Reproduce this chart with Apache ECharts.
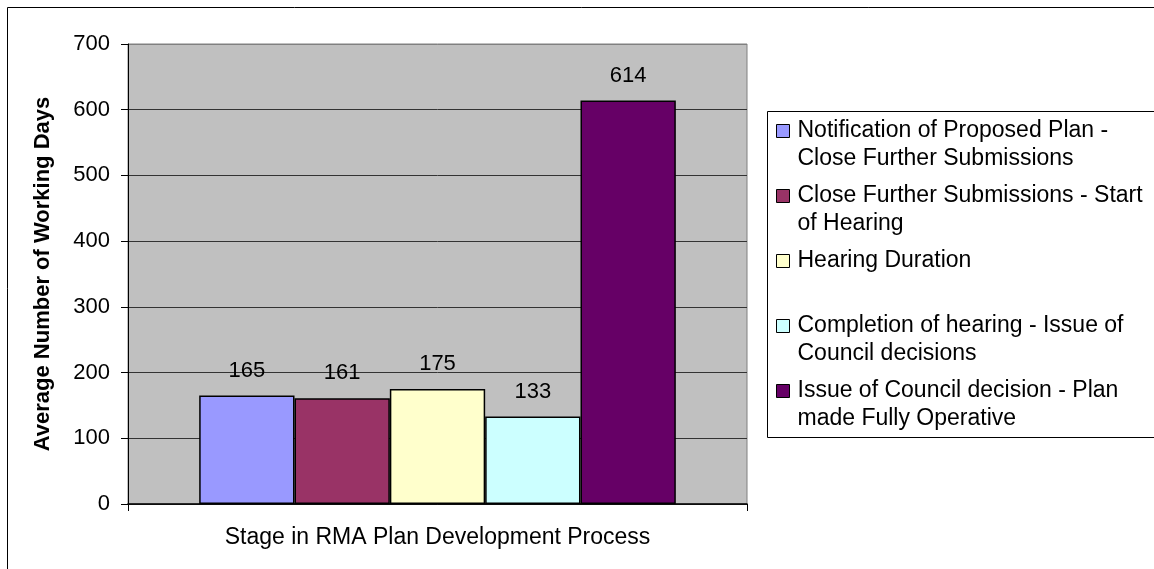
<!DOCTYPE html>
<html>
<head>
<meta charset="utf-8">
<title>RMA Plan Development Process</title>
<script src="https://cdn.jsdelivr.net/npm/echarts@6/dist/echarts.min.js"></script>
<style>
  html, body { margin: 0; padding: 0; background: #fff; }
  #main { width: 1154px; height: 569px; }
</style>
</head>
<body>
<div id="main"></div>
<script>
// data
const categories = [""];
const seriesNames = [
  "Notification of Proposed Plan - Close Further Submissions",
  "Close Further Submissions - Start of Hearing",
  "Hearing Duration",
  "Completion of hearing - Issue of Council decisions",
  "Issue of Council decision - Plan made Fully Operative",
];
// wrapped legend text, as Excel breaks it
const legendLines = [
  ["Notification of Proposed Plan -", "Close Further Submissions"],
  ["Close Further Submissions - Start", "of Hearing"],
  ["Hearing Duration", " "],
  ["Completion of hearing - Issue of", "Council decisions"],
  ["Issue of Council decision - Plan", "made Fully Operative"],
];
const values = [165, 161, 175, 133, 614];
const yTicks = { min: 0, max: 700, interval: 100 };

const palette = ["#9999FF", "#993366", "#FFFFCC", "#CCFFFF", "#660066"];
const FONT = "'Liberation Sans', Arial, sans-serif";

const chart = echarts.init(document.getElementById("main"), null, { renderer: "canvas" });

const series = seriesNames.map((name, i) => ({
  name: name,
  type: "bar",
  data: [values[i]],
  barGap: "0%",
  barCategoryGap: "23%",
  itemStyle: { color: palette[i], borderColor: "#000", borderWidth: 1.5 },
  label: {
    show: true,
    position: "top",
    distance: 14,
    color: "#000",
    fontFamily: FONT,
    fontSize: 22,
  },
}));

const option = {
  animation: false,
  color: palette,
  textStyle: { fontFamily: FONT },
  grid: {
    left: 128,
    right: 407,
    top: 44,
    bottom: 65,
    show: true,
    backgroundColor: "#C0C0C0",
    borderColor: "#808080",
    borderWidth: 1,
  },
  legend: {
    orient: "vertical",
    left: 776,
    top: 89,
    padding: 0,
    itemGap: -19,
    itemWidth: 13,
    itemHeight: 13,
    icon: "rect",
    itemStyle: { borderColor: "#000", borderWidth: 1 },
    textStyle: {
      color: "#000",
      fontFamily: FONT,
      fontSize: 23,
      lineHeight: 28,
      padding: [0, 0, 0, 3],
    },
    // blank first line keeps the marker level with the first text line
    formatter: (name) => [" "].concat(legendLines[seriesNames.indexOf(name)]).join("\n"),
    data: seriesNames,
  },
  graphic: [
    {
      // outer chart border
      type: "rect",
      shape: { x: 7.5, y: 7.5, width: 1300, height: 700 },
      style: { fill: "none", stroke: "#000", lineWidth: 1 },
      silent: true,
    },
    {
      // legend box
      type: "rect",
      shape: { x: 767.5, y: 111.5, width: 500, height: 326 },
      style: { fill: "none", stroke: "#000", lineWidth: 1 },
      silent: true,
    },
  ],
  xAxis: {
    type: "category",
    data: categories,
    name: "Stage in RMA Plan Development Process",
    nameLocation: "middle",
    nameGap: 22,
    nameTextStyle: { color: "#000", fontFamily: FONT, fontSize: 23 },
    axisLine: { lineStyle: { color: "#000", width: 1.5 } },
    axisTick: { show: true, length: 7, lineStyle: { color: "#000" } },
    axisLabel: { show: false },
  },
  yAxis: {
    type: "value",
    min: yTicks.min,
    max: yTicks.max,
    interval: yTicks.interval,
    name: "Average Number of Working Days",
    nameLocation: "middle",
    nameGap: 74,
    nameTextStyle: { color: "#000", fontFamily: FONT, fontSize: 22, fontWeight: "bold" },
    axisLine: { show: true, lineStyle: { color: "#000", width: 1 } },
    axisTick: { show: true, length: 7, lineStyle: { color: "#000" } },
    axisLabel: { color: "#000", fontFamily: FONT, fontSize: 22, margin: 18 },
    splitLine: {
      show: true,
      lineStyle: {
        color: ["#333", "#333", "#333", "#333", "#333", "#333", "#333", "#808080"],
        width: 1,
      },
    },
  },
  series: series,
};

chart.setOption(option);
</script>
</body>
</html>
